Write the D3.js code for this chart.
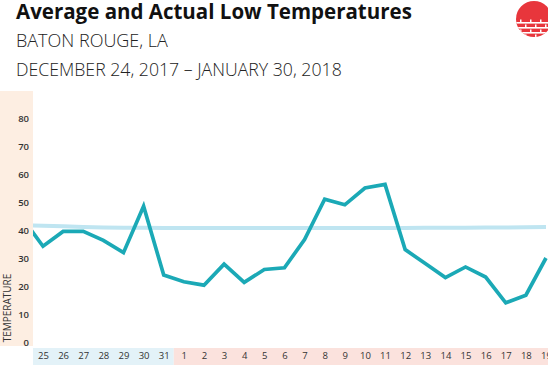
<!DOCTYPE html>
<html><head><meta charset="utf-8">
<script src="https://cdn.jsdelivr.net/npm/d3@7"></script>
<style>body{margin:0;background:#fff;}svg{display:block;}</style>
</head><body>
<svg id="c" width="548" height="365"></svg>
<script>
const dayLabels = ["24","25","26","27","28","29","30","31","1","2","3","4","5","6","7","8","9","10","11","12","13","14","15","16","17","18","19"];
const months = ["Dec","Dec","Dec","Dec","Dec","Dec","Dec","Dec","Jan","Jan","Jan","Jan","Jan","Jan","Jan","Jan","Jan","Jan","Jan","Jan","Jan","Jan","Jan","Jan","Jan","Jan","Jan"];
const actualLow = [44,34.2,39.5,39.5,36.3,31.9,48.5,23.9,21.5,20.3,27.8,21.3,25.9,26.5,36.6,51,49,55,56.3,33,28,23,26.8,23.2,14,16.7,30];
const averageLow = [41.7,41.5,41.3,41.1,40.9,40.8,40.8,40.7,40.7,40.7,40.7,40.7,40.7,40.7,40.7,40.7,40.7,40.7,40.7,40.7,40.8,40.8,40.8,40.9,40.9,41,41.1];
const yTicks = [0,10,20,30,40,50,60,70,80];

const svg = d3.select("#c");
const W = 548, H = 365;
const plotLeft = 33;
const x = d3.scaleLinear().domain([1, 26]).range([43, 546]);
const y = d3.scaleLinear().domain([0, 80]).range([342, 118]);

// left orange panel
svg.append("rect").attr("x",0).attr("y",91).attr("width",plotLeft).attr("height",255).attr("fill","#fdeee2");

// month bands under axis
const decEnd = (x(7)+x(8))/2;
svg.append("rect").attr("x",plotLeft).attr("y",348).attr("width",decEnd-plotLeft).attr("height",17).attr("fill","#e3f2f8");
svg.append("rect").attr("x",decEnd).attr("y",348).attr("width",W-decEnd).attr("height",17).attr("fill","#fbe2dd");

// clip
svg.append("clipPath").attr("id","clip").append("rect").attr("x",plotLeft).attr("y",90).attr("width",W-plotLeft).attr("height",260);

const line = d3.line().x((d,i)=>x(i)).y(d=>y(d));
svg.append("path").datum(averageLow).attr("clip-path","url(#clip)")
  .attr("d",line).attr("fill","none").attr("stroke","#bfe5f1").attr("stroke-width",4);
svg.append("path").datum(actualLow).attr("clip-path","url(#clip)")
  .attr("d",line).attr("fill","none").attr("stroke","#1ba9b6").attr("stroke-width",3.7).attr("stroke-linejoin","miter");

// y axis
const yAxis = d3.axisLeft(y).tickValues(yTicks).tickSize(0).tickPadding(0);
const gy = svg.append("g").attr("transform","translate(29,0)").call(yAxis);
gy.select(".domain").remove();
gy.selectAll("text").attr("font-family","'Open Sans', sans-serif").attr("font-size",9.5).attr("font-weight",600).attr("fill","#333");

svg.append("text").attr("transform","translate(11,308) rotate(-90)").attr("text-anchor","middle")
  .attr("font-family","'Open Sans', sans-serif").attr("font-size",10).attr("fill","#333").text("TEMPERATURE");

// x axis
const xAxis = d3.axisBottom(x).tickValues(d3.range(1,27)).tickFormat(i=>dayLabels[i]).tickSize(0).tickPadding(0);
const gx = svg.append("g").attr("transform","translate(0,352)").call(xAxis);
gx.select(".domain").remove();
gx.selectAll("text").attr("font-family","'Open Sans', sans-serif").attr("font-size",9.5).attr("fill","#333");

// titles
svg.append("text").attr("x",16).attr("y",19).attr("font-family","'Open Sans', sans-serif").attr("font-weight",700).attr("font-size",20.5).attr("fill","#111").text("Average and Actual Low Temperatures");
svg.append("text").attr("x",16).attr("y",47).attr("font-family","'Open Sans', sans-serif").attr("font-weight",300).attr("font-size",18).attr("fill","#222").text("BATON ROUGE, LA");
svg.append("text").attr("x",16).attr("y",76).attr("font-family","'Open Sans', sans-serif").attr("font-weight",300).attr("font-size",17.7).attr("fill","#222").text("DECEMBER 24, 2017 \u2013 JANUARY 30, 2018");

// logo
const logo = svg.append("g");
logo.append("clipPath").attr("id","lc").append("circle").attr("cx",534).attr("cy",19).attr("r",18);
const lg = logo.append("g").attr("clip-path","url(#lc)");
lg.append("rect").attr("x",514).attr("y",0).attr("width",40).attr("height",40).attr("fill","#e8363c");
[22,27,32].forEach((yy,k)=>{
  lg.append("rect").attr("x",510).attr("y",yy).attr("width",40).attr("height",1.6).attr("fill","#fff");
});
[[19.5,[520,530,540]],[24.5,[525,535,545]],[29.5,[520,530,540]],[34.5,[525,535,545]]].forEach(([yy,xs])=>{
  xs.forEach(xx=>lg.append("rect").attr("x",xx).attr("y",yy).attr("width",1.5).attr("height",2.5).attr("fill","#fff"));
});
</script>
</body></html>
